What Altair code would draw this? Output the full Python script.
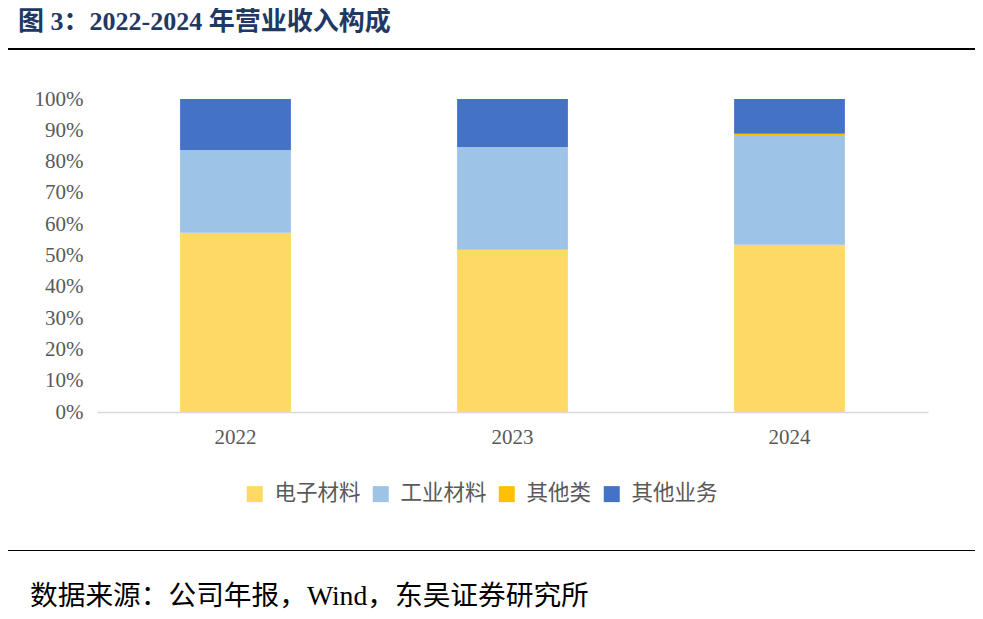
import altair as alt
import pandas as pd

years = ["2022", "2023", "2024"]
categories = ["电子材料", "工业材料", "其他类", "其他业务"]
electronic = [0.573, 0.518, 0.534]
industrial = [0.264, 0.329, 0.351]
other_cls = [0.000, 0.000, 0.004]
other_biz = [0.163, 0.153, 0.111]
colors = ["#FFD966", "#9DC3E6", "#FFC000", "#4472C4"]
y_ticks = [i / 10 for i in range(11)]
title_text = "图 3：2022-2024 年营业收入构成"
footer_text = "数据来源：公司年报，Wind，东吴证券研究所"

rows = []
series = [electronic, industrial, other_cls, other_biz]
for ci, (cat, vals) in enumerate(zip(categories, series)):
    for y, v in zip(years, vals):
        rows.append({"year": y, "cat": cat, "value": v, "ord": ci})
df = pd.DataFrame(rows)

SERIF = "Liberation Serif, Noto Sans CJK SC"
CJK = "Noto Sans CJK SC"

bars = alt.Chart(df).mark_bar().encode(
    x=alt.X("year:N", title=None, sort=years,
            scale=alt.Scale(paddingInner=0.6, paddingOuter=0.3),
            axis=alt.Axis(labelAngle=0, ticks=False, domainColor="#D9D9D9",
                          domainWidth=1.3, labelFont=SERIF, labelFontSize=21,
                          labelColor="#595959", labelPadding=14)),
    y=alt.Y("value:Q", stack="zero", title=None,
            scale=alt.Scale(domain=[0, 1], nice=False),
            axis=alt.Axis(format=".0%", values=y_ticks, grid=False, ticks=False,
                          domain=False, labelFont=SERIF, labelFontSize=21,
                          labelColor="#595959", labelPadding=14)),
    color=alt.Color("cat:N", sort=categories,
                    scale=alt.Scale(domain=categories, range=colors),
                    legend=alt.Legend(title=None, orient="none", direction="horizontal",
                                      legendX=147, legendY=384, symbolType="square",
                                      symbolSize=256, symbolStrokeWidth=0,
                                      labelFont=CJK, labelFontSize=21.5,
                                      labelColor="#595959", labelOffset=9,
                                      columnPadding=9)),
    order=alt.Order("ord:Q", sort="ascending"),
)

one = pd.DataFrame({"t": [title_text], "f": [footer_text]})

title = alt.Chart(one).mark_text(
    align="left", baseline="middle", font=SERIF, fontSize=26,
    fontWeight="bold", color="#1F3864"
).encode(text="t:N", x=alt.value(-79), y=alt.value(-77))

footer = alt.Chart(one).mark_text(
    align="left", baseline="middle", font=SERIF, fontSize=27.7, color="#000000"
).encode(text="f:N", x=alt.value(-67), y=alt.value(498))

top_line = alt.Chart(one).mark_rule(color="#000000", strokeWidth=2.2).encode(
    x=alt.value(-89), x2=alt.value(878), y=alt.value(-50))
bottom_line = alt.Chart(one).mark_rule(color="#000000", strokeWidth=1).encode(
    x=alt.value(-89), x2=alt.value(878), y=alt.value(451.5))

chart = alt.layer(bars, title, footer, top_line, bottom_line).properties(
    width=831, height=313,
    background="white",
    autosize=alt.AutoSizeParams(type="none"),
    padding={"left": 89, "top": 91, "right": 47, "bottom": 199},
).configure_view(stroke=None, strokeWidth=0)

chart.save("out.html", embed_options={"renderer": "svg", "actions": False})
